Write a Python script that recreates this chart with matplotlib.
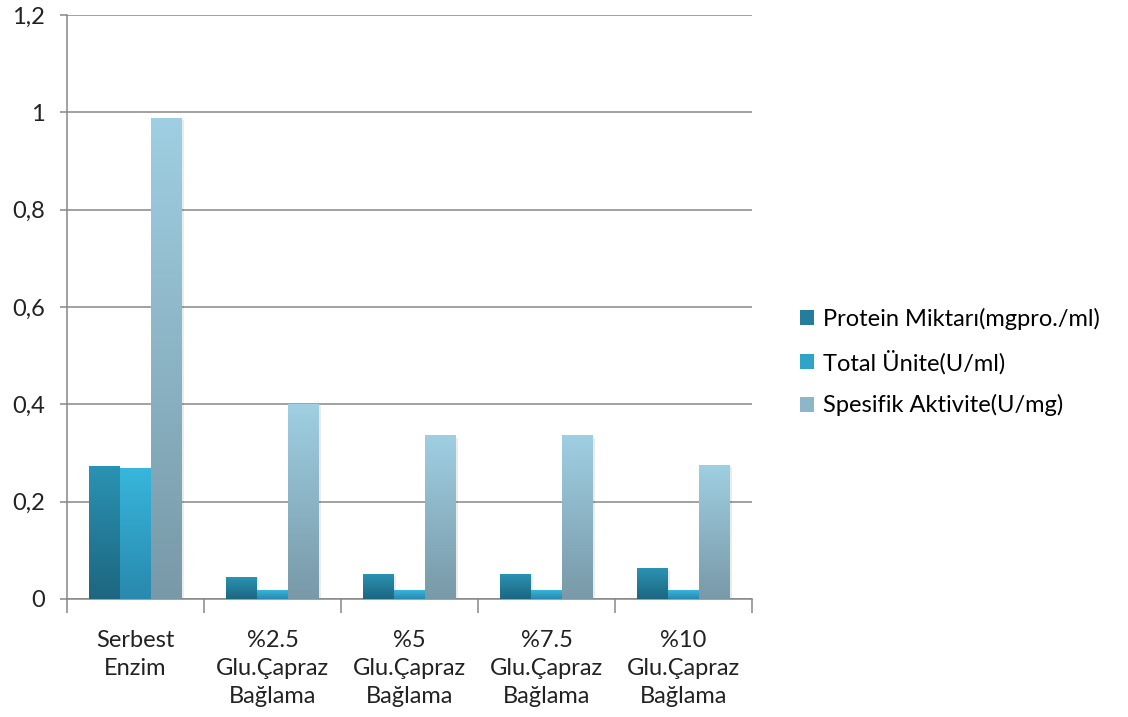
import numpy as np
import matplotlib.pyplot as plt
from matplotlib.colors import LinearSegmentedColormap
from matplotlib.patches import Patch

plt.rcParams['font.family'] = ['Lato', 'DejaVu Sans']

categories = ['Serbest\nEnzim', '%2.5\nGlu.Çapraz\nBağlama', '%5\nGlu.Çapraz\nBağlama',
              '%7.5\nGlu.Çapraz\nBağlama', '%10\nGlu.Çapraz\nBağlama']
series = ['Protein Miktarı(mgpro./ml)', 'Total Ünite(U/ml)', 'Spesifik Aktivite(U/mg)']
protein = [0.273, 0.045, 0.051, 0.051, 0.062]
total = [0.269, 0.018, 0.018, 0.018, 0.018]
spesifik = [0.988, 0.400, 0.335, 0.335, 0.275]
yticks = [0, 0.2, 0.4, 0.6, 0.8, 1.0, 1.2]
ytick_labels = ['0', '0,2', '0,4', '0,6', '0,8', '1', '1,2']

# (bottom colour, top colour) for each series
grads = [('#1d6680', '#2a93b3'), ('#2889ad', '#38b6dc'), ('#7899a8', '#9fcfe2')]
legend_cols = ['#237d9b', '#30a3c8', '#8cb7c8']
fs = 17

fig = plt.figure(figsize=(11.28, 7.17), dpi=100)
ax = fig.add_axes([0.0594, 0.1646, 0.6073, 0.8144])

x = np.arange(len(categories))
w = 0.226
data = [protein, total, spesifik]
for i, vals in enumerate(data):
    bars = ax.bar(x + (i - 1) * w, vals, width=w, color='none', zorder=3)
    cmap = LinearSegmentedColormap.from_list('g%d' % i, grads[i])
    for r in bars:
        x0, y0 = r.get_x(), r.get_y()
        h = r.get_height()
        # soft shadow on the right
        ax.add_patch(plt.Rectangle((x0 + 0.012, y0), r.get_width(), h - 0.004,
                                   color='#000000', alpha=0.08, lw=0, zorder=2))
        grad = np.linspace(0, 1, 256).reshape(-1, 1)
        ax.imshow(grad, cmap=cmap, origin='lower', aspect='auto',
                  extent=(x0, x0 + r.get_width(), y0, y0 + h), zorder=3)

ax.set_xlim(-0.5, len(categories) - 0.5)
ax.set_ylim(0, 1.2)
ax.set_yticks(yticks)
ax.set_yticklabels(ytick_labels, fontsize=fs, color='#222222')
ax.yaxis.grid(True, color='#878787', lw=1.1, zorder=0)
ax.set_axisbelow(True)

ax.set_xticks(np.arange(len(categories) + 1) - 0.5)
ax.set_xticklabels([])
ax.set_xticks(x, minor=True)
ax.set_xticklabels(categories, minor=True, fontsize=fs, color='#222222',
                   linespacing=1.42)
ax.tick_params(axis='x', which='major', length=10, color='#878787', width=1.1)
ax.tick_params(axis='x', which='minor', length=0, pad=22)
ax.tick_params(axis='y', length=5, color='#878787', width=1.1, pad=11)

for s in ['top', 'right']:
    ax.spines[s].set_visible(False)
for s in ['left', 'bottom']:
    ax.spines[s].set_color('#878787')
    ax.spines[s].set_linewidth(1.1)

handles = [Patch(facecolor=c, edgecolor='none') for c in legend_cols]
fig.legend(handles, series, loc='center left', bbox_to_anchor=(0.690, 0.495),
           frameon=False, fontsize=fs, handlelength=0.6, handleheight=0.6,
           handletextpad=0.4, labelspacing=0.85)

fig.savefig('out.png', dpi=100)
